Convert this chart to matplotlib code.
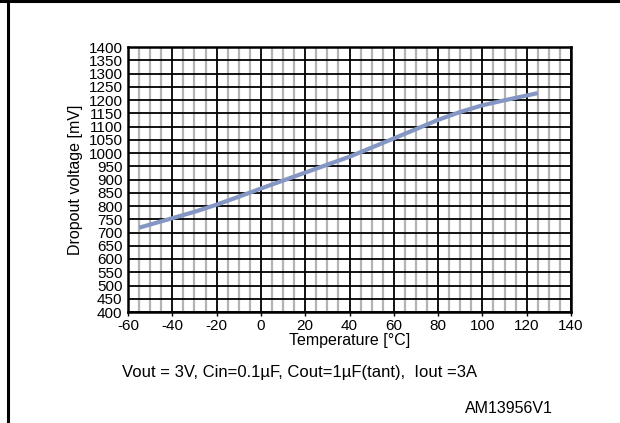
import numpy as np
import matplotlib.pyplot as plt
from matplotlib.ticker import MultipleLocator

plt.rcParams['font.family'] = ['Liberation Sans', 'DejaVu Sans']
plt.rcParams['axes.unicode_minus'] = False

# Dropout voltage vs temperature
temp_c = [-55, -40, -30, -20, -10, 0, 20, 40, 60, 80, 90, 100, 110, 125]
dropout_mv = [718, 754, 778, 805, 835, 866, 926, 986, 1055, 1125, 1155, 1180, 1199, 1226]

x_ticks = list(range(-60, 141, 20))
y_ticks = list(range(400, 1401, 50))

fig = plt.figure(figsize=(6.2, 4.23), dpi=100)
ax = fig.add_axes([128 / 620, 1 - 312 / 423, (571 - 128) / 620, (312 - 47) / 423])

ax.plot(temp_c, dropout_mv, color="#8497c4", linewidth=3, solid_capstyle="butt",
        solid_joinstyle="round", zorder=5)

ax.set_xlim(-60, 140)
ax.set_ylim(400, 1400)
ax.set_xticks(x_ticks)
ax.set_yticks(y_ticks)
ax.xaxis.set_minor_locator(MultipleLocator(5))
ax.grid(True, which="minor", axis="x", color="#b4b4b4", linewidth=1.6)
ax.grid(True, which="major", axis="both", color="black", linewidth=1.3)
ax.tick_params(axis="x", which="major", length=3, width=1, direction="out", labelsize=11, pad=2)
ax.tick_params(axis="x", which="minor", length=0)
ax.tick_params(axis="y", length=0, labelsize=11, pad=4)
for s in ax.spines.values():
    s.set_linewidth(1.8)

ax.set_xlabel("Temperature [°C]", fontsize=11.5, labelpad=0)
ax.set_ylabel("Dropout voltage [mV]", fontsize=11.5, labelpad=4)

fig.text(300 / 620, 1 - 372 / 423, "Vout = 3V, Cin=0.1µF, Cout=1µF(tant),  Iout =3A",
         ha="center", va="center", fontsize=12)
fig.text(553 / 620, 1 - 408 / 423, "AM13956V1", ha="right", va="center", fontsize=11.5)

# frame: top and left borders
fig.add_artist(plt.Line2D([0, 1], [1 - 1.5 / 423] * 2, color="black", linewidth=2.2))
fig.add_artist(plt.Line2D([7.5 / 620] * 2, [0, 1], color="black", linewidth=2.2))

fig.savefig("out.png", dpi=100)
